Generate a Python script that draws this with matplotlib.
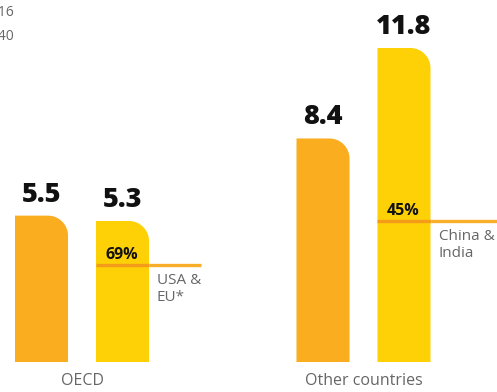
import matplotlib.pyplot as plt
import numpy as np
from matplotlib.path import Path
from matplotlib.patches import PathPatch

plt.rcParams['font.family'] = ['Open Sans', 'DejaVu Sans']

# data
groups = ['OECD', 'Other countries']
years = ['2016', '2040']
v2016 = [5.5, 8.4]
v2040 = [5.3, 11.8]
share_pct = [69, 45]
share_lbl = ['USA &\nEU*', 'China &\nIndia']

c2016 = '#F9AD1F'
c2040 = '#FDD105'
c_line = '#F9AE2A'
c_line_in = '#F49B1A'
c_grey = '#666666'

W, H = 497, 392
fig = plt.figure(figsize=(W / 100, H / 100), dpi=100)
# axes: bottom of bars 30 px above figure bottom
ax = fig.add_axes([0, 30 / H, 1, (H - 30) / H])
px_per_unit = 314 / 11.8
ax.set_ylim(0, (H - 30) / px_per_unit)
gap = 281.5  # px between group centres
ax.set_xlim(-82 / gap, 1 + (W - 363.5) / gap)
ax.axis('off')

bw = 53 / gap
off = 40.5 / gap
rx = 20 / gap
ry = 20 / px_per_unit


def round_bar(x0, w, h, color):
    # bar with only the top-right corner rounded
    k = 0.5523
    verts = [(x0, 0), (x0 + w, 0), (x0 + w, h - ry),
             (x0 + w, h - ry + k * ry), (x0 + w - rx + k * rx, h), (x0 + w - rx, h),
             (x0, h), (x0, 0)]
    codes = [Path.MOVETO, Path.LINETO, Path.LINETO,
             Path.CURVE4, Path.CURVE4, Path.CURVE4,
             Path.LINETO, Path.CLOSEPOLY]
    ax.add_patch(PathPatch(Path(verts, codes), facecolor=color, edgecolor='none'))


x = np.arange(len(groups))
lab_off = 14 / px_per_unit
for i in x:
    xa = i - off
    xb = i + off
    round_bar(xa - bw / 2, bw, v2016[i], c2016)
    round_bar(xb - bw / 2, bw, v2040[i], c2040)
    ax.text(xa, v2016[i] + lab_off, f'{v2016[i]:.1f}', ha='center', va='baseline',
            fontsize=19.5, fontweight='heavy', color='#111111')
    ax.text(xb, v2040[i] + lab_off, f'{v2040[i]:.1f}', ha='center', va='baseline',
            fontsize=19.5, fontweight='heavy', color='#111111')

    ys = v2040[i] * share_pct[i] / 100
    x_end = xb + bw / 2 + 52 / gap if i == 0 else ax.get_xlim()[1]
    ax.plot([xb + bw / 2, x_end], [ys, ys], color=c_line, lw=2.4, solid_capstyle='butt')
    ax.plot([xb - bw / 2, xb + bw / 2], [ys, ys], color=c_line_in, lw=2.4, solid_capstyle='butt')
    ax.text(xb - bw / 2 + 9 / gap, ys + 6 / px_per_unit, f'{share_pct[i]}%', ha='left',
            va='baseline', fontsize=11.5, fontweight='bold', color='#111111')
    ax.text(xb + bw / 2 + 8 / gap, ys - 8 / px_per_unit, share_lbl[i], ha='left', va='top',
            fontsize=11, color=c_grey, linespacing=1.2)

    fig.text((82 + i * gap) / W, 3 / H, groups[i], ha='center', va='bottom',
             fontsize=11.5, color=c_grey)

# legend, mostly cut off at the left edge
fig.text(14 / W, 1 - 16 / H, years[0], ha='right', va='baseline', fontsize=10, color=c_grey)
fig.text(14 / W, 1 - 40 / H, years[1], ha='right', va='baseline', fontsize=10, color=c_grey)

fig.savefig('out.png', dpi=100)
